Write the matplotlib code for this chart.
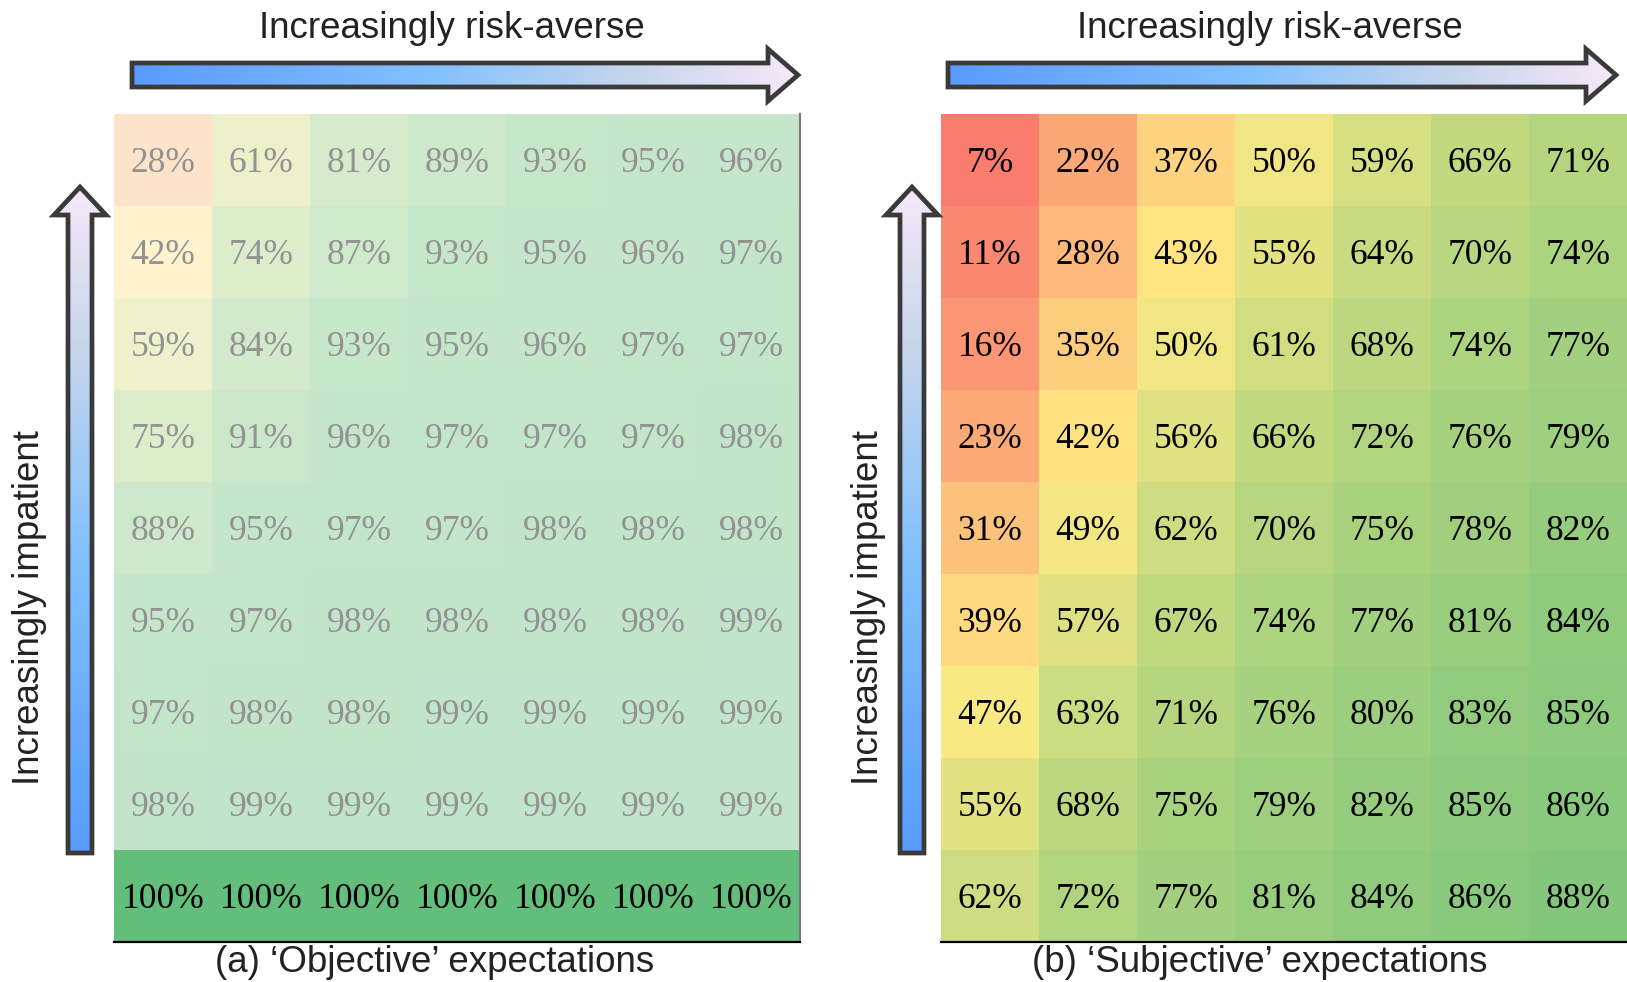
import numpy as np
import matplotlib
matplotlib.use("Agg")
import matplotlib.pyplot as plt
from matplotlib.colors import LinearSegmentedColormap
from matplotlib.patches import Polygon

# data: share of cells (rows = impatience, cols = risk aversion)
objective = [
    [28, 61, 81, 89, 93, 95, 96],
    [42, 74, 87, 93, 95, 96, 97],
    [59, 84, 93, 95, 96, 97, 97],
    [75, 91, 96, 97, 97, 97, 98],
    [88, 95, 97, 97, 98, 98, 98],
    [95, 97, 98, 98, 98, 98, 99],
    [97, 98, 98, 99, 99, 99, 99],
    [98, 99, 99, 99, 99, 99, 99],
    [100, 100, 100, 100, 100, 100, 100],
]
subjective = [
    [7, 22, 37, 50, 59, 66, 71],
    [11, 28, 43, 55, 64, 70, 74],
    [16, 35, 50, 61, 68, 74, 77],
    [23, 42, 56, 66, 72, 76, 79],
    [31, 49, 62, 70, 75, 78, 82],
    [39, 57, 67, 74, 77, 81, 84],
    [47, 63, 71, 76, 80, 83, 85],
    [55, 68, 75, 79, 82, 85, 86],
    [62, 72, 77, 81, 84, 86, 88],
]
x_label = "Increasingly risk-averse"
y_label = "Increasingly impatient"
captions = ["(a) \u2018Objective\u2019 expectations", "(b) \u2018Subjective\u2019 expectations"]

W, H = 1627, 982
fig = plt.figure(figsize=(W / 100, H / 100), dpi=100)

cmap = LinearSegmentedColormap.from_list(
    "ryg", [(0, "#F8696B"), (0.45, "#FFEB84"), (1, "#63BE7B")])
grad = LinearSegmentedColormap.from_list(
    "arr", [(0, "#5A9BFF"), (0.45, "#82C1FF"), (0.75, "#C5D5EC"), (1, "#F7E8F7")])

num_font = dict(family=["Liberation Serif", "DejaVu Serif"], fontsize=25.5)
lab_font = dict(family=["Liberation Sans", "DejaVu Sans"], fontsize=26.5, color="#222222")


def heat(ax, data, faded):
    arr = np.array(data, dtype=float)
    alpha = np.ones_like(arr)
    if faded:
        alpha[:-1, :] = 0.4
    ax.imshow(arr, cmap=cmap, vmin=0, vmax=100, aspect="auto", alpha=alpha,
              interpolation="nearest")
    for i in range(arr.shape[0]):
        for j in range(arr.shape[1]):
            col = "#929292" if alpha[i, j] < 1 else "black"
            ax.text(j, i + 0.13, f"{int(arr[i, j])}%", ha="center", va="baseline",
                    color=col, **num_font)
    ax.set_xticks([])
    ax.set_yticks([])
    for s in ["top", "left"]:
        ax.spines[s].set_visible(False)
    ax.spines["bottom"].set_color("black")
    ax.spines["bottom"].set_linewidth(1.6)
    if faded:
        ax.spines["right"].set_color("#777777")
        ax.spines["right"].set_linewidth(1.5)
    else:
        ax.spines["right"].set_visible(False)


ax_a = fig.add_axes([114 / W, 40 / H, 686 / W, 828 / H])
ax_b = fig.add_axes([941 / W, 40 / H, 686 / W, 828 / H])
heat(ax_a, objective, True)
heat(ax_b, subjective, False)

# overlay in pixel coords for arrows and labels
ov = fig.add_axes([0, 0, 1, 1], zorder=5)
ov.patch.set_alpha(0)
ov.axis("off")


def h_arrow(x0, tip, yc, sh=12, hh=26, hl=30):
    pts = [(x0, yc - sh), (tip - hl, yc - sh), (tip - hl, yc - hh), (tip, yc),
           (tip - hl, yc + hh), (tip - hl, yc + sh), (x0, yc + sh)]
    poly = Polygon(pts, closed=True, fc="none", ec="#3a3a3a", lw=3.4, joinstyle="miter")
    g = grad(np.linspace(0, 1, 256))[None, :, :3]
    im = ov.imshow(g, extent=(x0, tip, yc + hh, yc - hh), aspect="auto", zorder=1)
    ov.add_patch(poly)
    im.set_clip_path(poly)


def v_arrow(xc, tip, y0, sh=12, hh=26, hl=28):
    pts = [(xc - sh, y0), (xc - sh, tip + hl), (xc - hh, tip + hl), (xc, tip),
           (xc + hh, tip + hl), (xc + sh, tip + hl), (xc + sh, y0)]
    poly = Polygon(pts, closed=True, fc="none", ec="#3a3a3a", lw=3.4, joinstyle="miter")
    g = grad(np.linspace(1, 0, 256))[:, None, :3]
    im = ov.imshow(g, extent=(xc - hh, xc + hh, y0, tip), aspect="auto", zorder=1)
    ov.add_patch(poly)
    im.set_clip_path(poly)


h_arrow(132, 798, 75)
h_arrow(948, 1616, 75)
v_arrow(80, 187, 853)
v_arrow(912, 187, 853)

ov.text(452, 38, x_label, ha="center", va="baseline", **lab_font)
ov.text(1270, 38, x_label, ha="center", va="baseline", **lab_font)
ov.text(30, 608, y_label, ha="center", va="center", rotation=90, **lab_font)
ov.text(869, 608, y_label, ha="center", va="center", rotation=90, **lab_font)
ov.text(435, 962, captions[0], ha="center", va="center", **lab_font)
ov.text(1260, 962, captions[1], ha="center", va="center", **lab_font)

ov.set_xlim(0, W)
ov.set_ylim(H, 0)

fig.savefig("out.png", dpi=100)
